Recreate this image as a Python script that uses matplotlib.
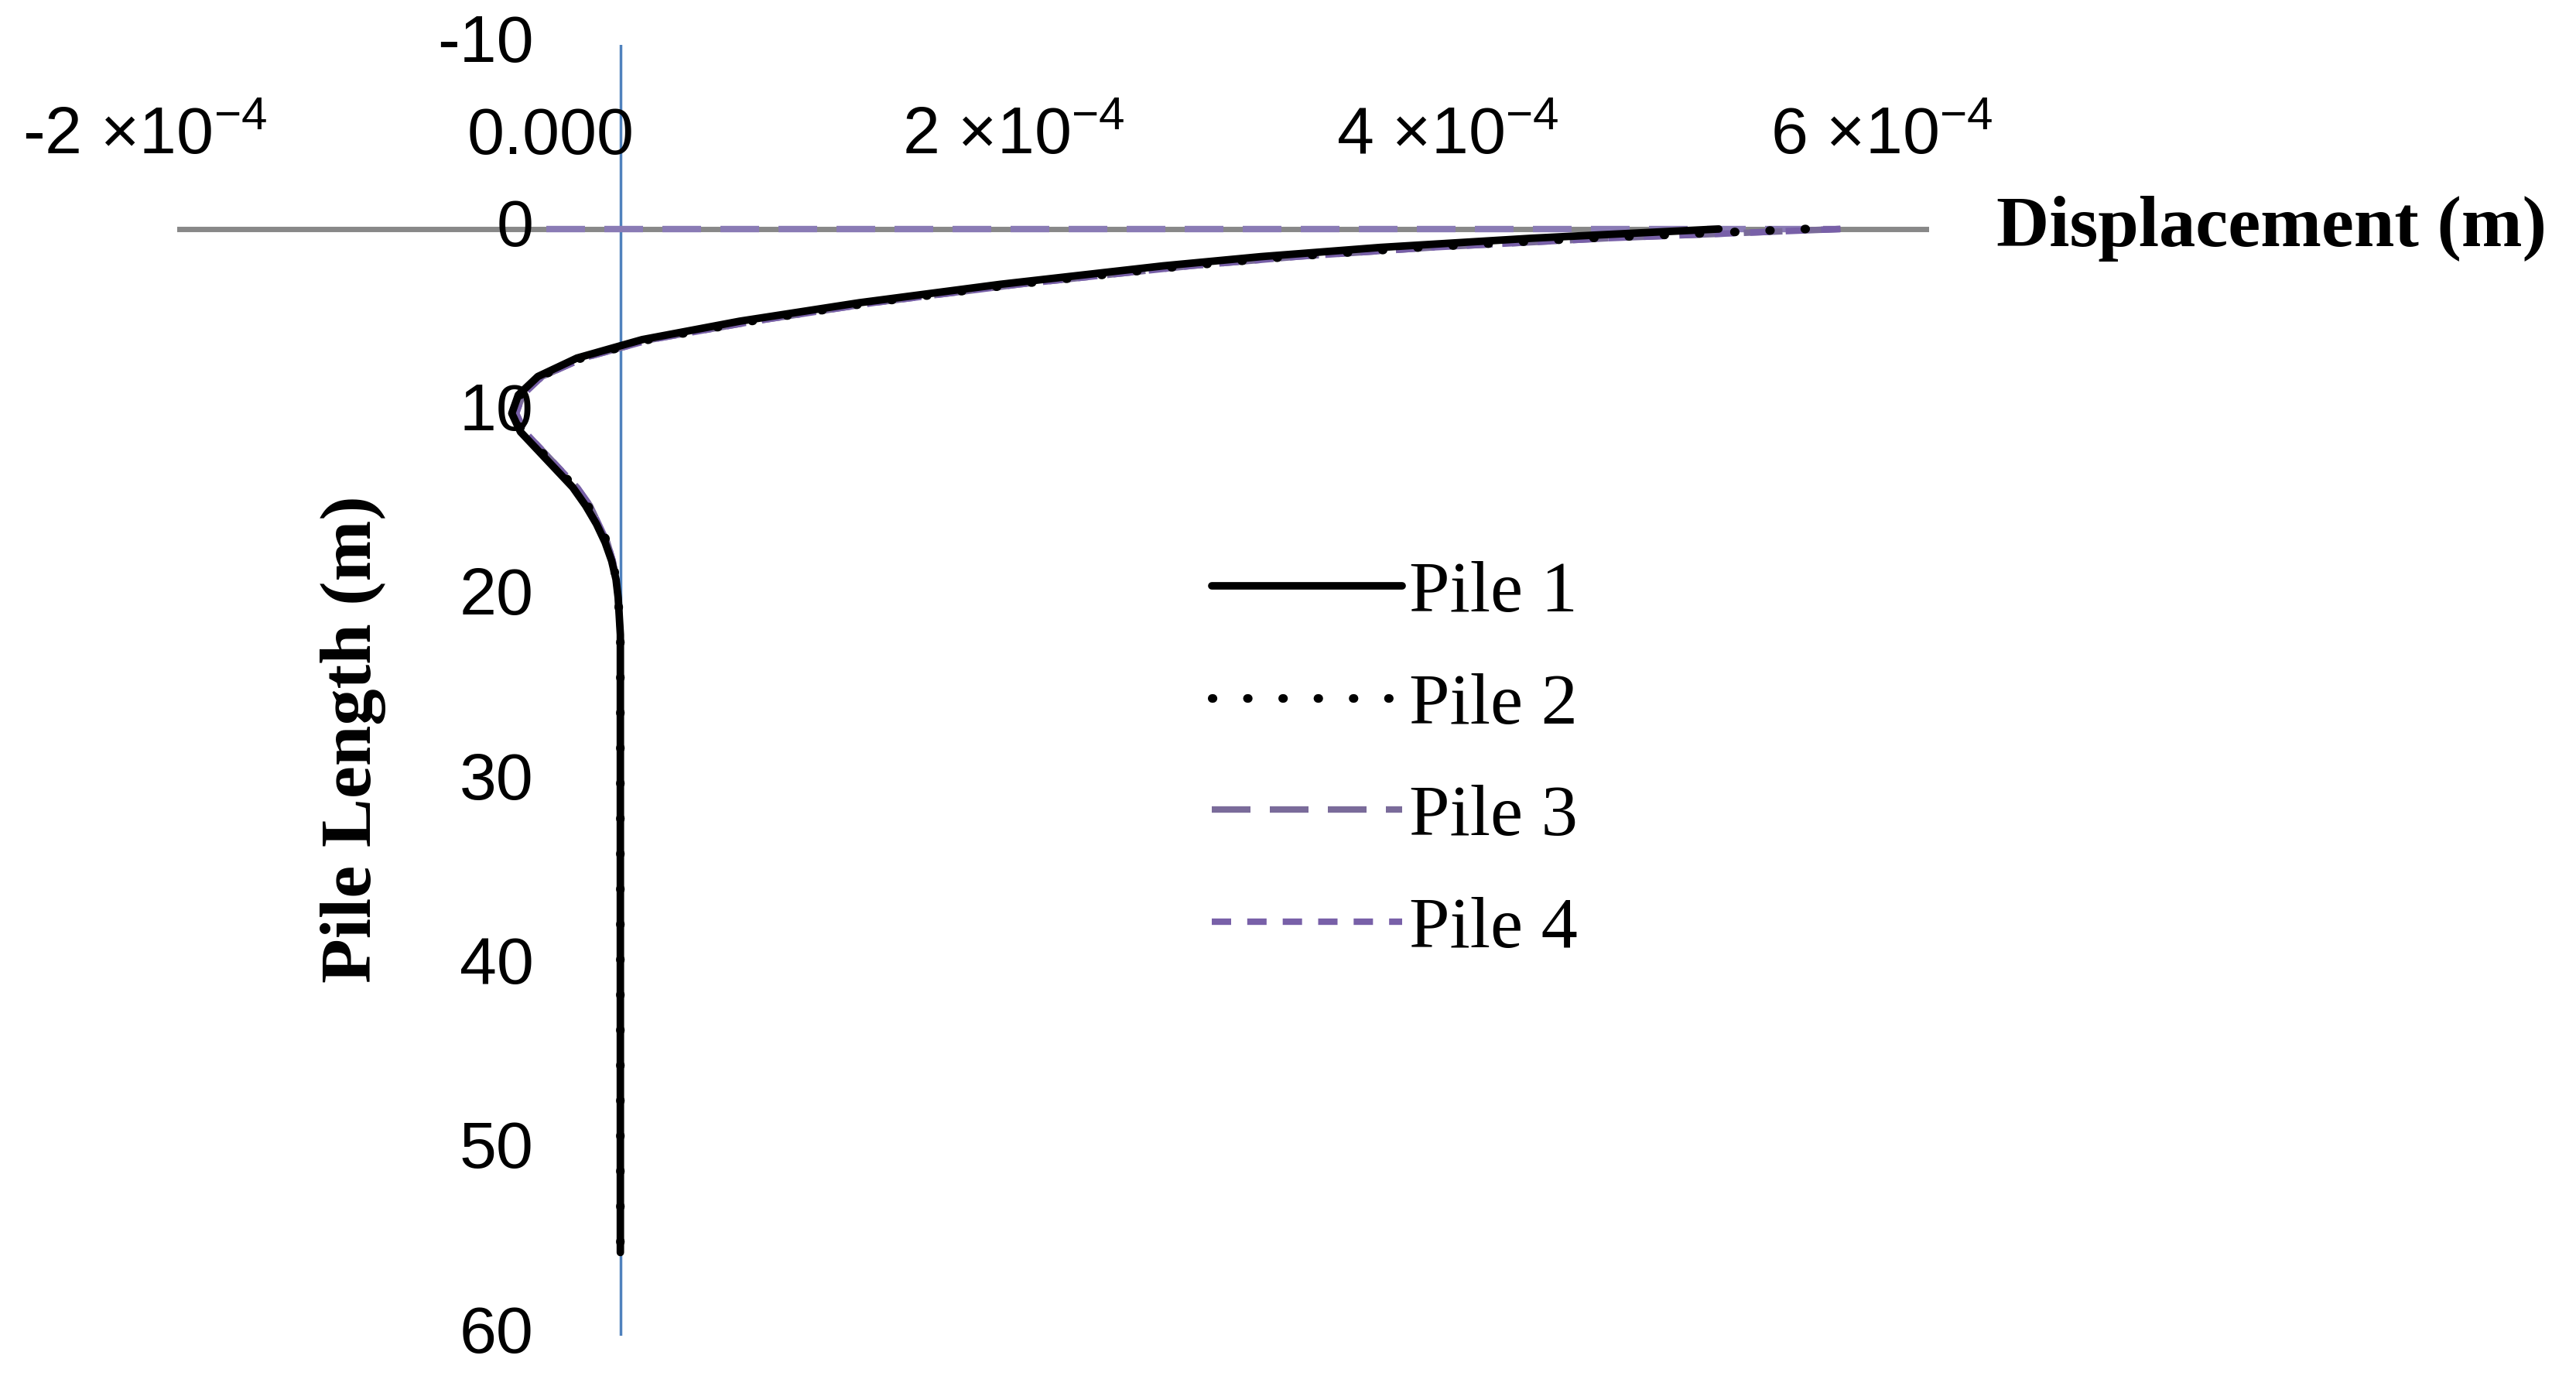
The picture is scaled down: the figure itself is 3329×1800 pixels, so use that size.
import matplotlib.pyplot as plt
import numpy as np

plt.rcParams['mathtext.fontset'] = 'custom'
plt.rcParams['mathtext.rm'] = 'Liberation Sans'

depth = [0, 0.5, 1, 1.5, 2, 3, 4, 5, 6, 7, 8, 9, 10, 11, 12, 13, 14, 15, 16, 17, 18, 19, 20,
         22, 25, 30, 35, 40, 45, 50, 55.5]
pile1 = [5.06, 4.2, 3.5, 2.95, 2.5, 1.75, 1.1, 0.55, 0.1, -0.2, -0.38, -0.47, -0.5, -0.46, -0.38,
         -0.3, -0.22, -0.16, -0.11, -0.07, -0.04, -0.02, -0.01, 0, 0, 0, 0, 0, 0, 0, 0]
pile2 = [5.46, 4.45, 3.68, 3.08, 2.6, 1.82, 1.15, 0.6, 0.13, -0.18, -0.37, -0.46, -0.49, -0.45, -0.37,
         -0.29, -0.21, -0.15, -0.1, -0.06, -0.035, -0.02, -0.01, 0, 0, 0, 0, 0, 0, 0, 0]
pile3 = [5.62, 4.55, 3.74, 3.12, 2.63, 1.84, 1.17, 0.62, 0.14, -0.17, -0.36, -0.45, -0.48, -0.44, -0.36,
         -0.28, -0.2, -0.14, -0.1, -0.06, -0.035, -0.02, -0.01, 0, 0, 0, 0, 0, 0, 0, 0]
pile3_top = [-0.34, 5.62]  # leading segment along surface
pile4 = pile3

x_ticks = [-2e-4, 0, 2e-4, 4e-4, 6e-4]
x_labels = [r'-2 $\times\mathregular{10^{-4}}$', '0.000', r'2 $\times\mathregular{10^{-4}}$',
            r'4 $\times\mathregular{10^{-4}}$', r'6 $\times\mathregular{10^{-4}}$']
y_ticks = [-10, 0, 10, 20, 30, 40, 50, 60]

sc = 1e-4
fig = plt.figure(figsize=(33.29, 18), dpi=100)
ax = fig.add_axes([0.0689, 0.0413, 0.749 - 0.0689, 0.968 - 0.0413])
ax.set_xlim(-2.04e-4, 6.03e-4)
ax.set_ylim(60, -10)
ax.axis('off')

ax.axhline(0, color='#888888', lw=5, zorder=1)
ax.axvline(0, color='#4f81bd', lw=2.5, zorder=1)

d = np.array(depth)
ax.plot(np.array(pile3_top) * sc, [0, 0], color='#8a7bb5', lw=6, dashes=(6, 3), zorder=2)
ax.plot(np.array(pile3) * sc, d, color='#7a6b9a', lw=6, dashes=(6, 3), label='Pile 3', zorder=2)
ax.plot(np.array(pile4) * sc, d, color='#7860a8', lw=6, dashes=(3, 2.5), label='Pile 4', zorder=2)
ax.plot(np.array(pile2) * sc, d, color='black', lw=8, dashes=(0.1, 4), dash_capstyle='round',
        label='Pile 2', zorder=3)
ax.plot(np.array(pile1) * sc, d, color='black', lw=7, solid_capstyle='round', label='Pile 1', zorder=4)

for xv, lab in zip(x_ticks, x_labels):
    off = -0.32e-4 if xv == 0 else -0.19e-4
    ax.text(xv + off, -5, lab, ha='center', va='center', fontsize=62, family='Liberation Sans')
for yv in y_ticks:
    ax.text(-0.4e-4, yv, str(yv), ha='right', va='center', fontsize=62, family='Liberation Sans')

ax.text(6.34e-4, 0, 'Displacement (m)', ha='left', va='center', fontsize=68,
        family='Liberation Serif', weight='bold', clip_on=False)
fig.text(215 / 1568, 1 - 450 / 848, 'Pile Length (m)', rotation=90, ha='center', va='center',
         fontsize=68, family='Liberation Serif', weight='bold')

h, l = ax.get_legend_handles_labels()
order = [l.index(n) for n in ['Pile 1', 'Pile 2', 'Pile 3', 'Pile 4']]
ax.legend([h[i] for i in order], [l[i] for i in order], loc='upper left',
          bbox_to_anchor=(0.445, 0.645), bbox_transform=fig.transFigure, frameon=False,
          prop={'family': 'Liberation Serif', 'size': 68}, handlelength=2.6,
          handletextpad=0.1, labelspacing=0.62)

fig.savefig('out.png', dpi=100)
